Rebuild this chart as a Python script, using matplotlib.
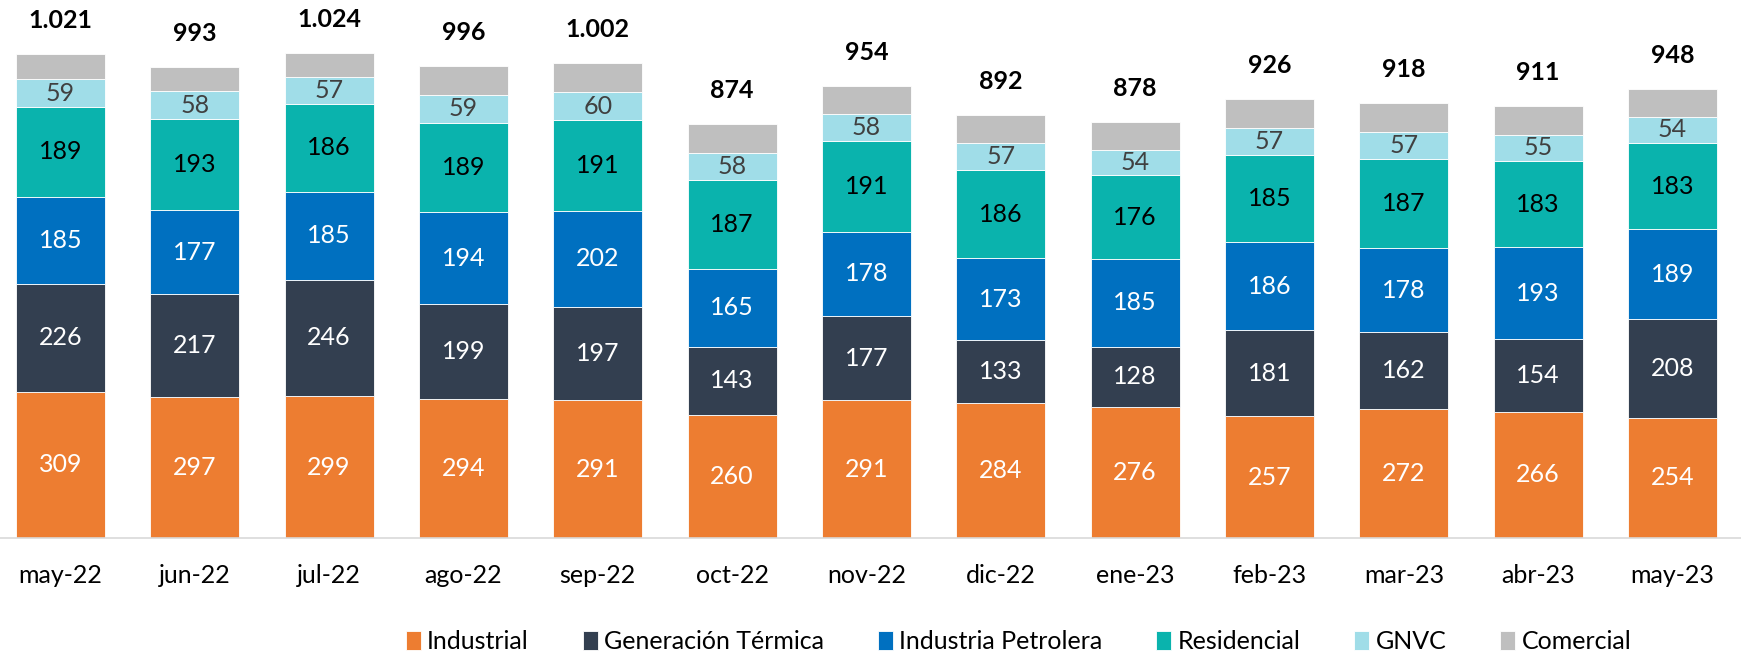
import numpy as np
import matplotlib.pyplot as plt

plt.rcParams['font.family'] = ['Lato', 'DejaVu Sans']

# %% Data
months = ["may-22", "jun-22", "jul-22", "ago-22", "sep-22", "oct-22", "nov-22",
          "dic-22", "ene-23", "feb-23", "mar-23", "abr-23", "may-23"]
industrial = [309, 297, 299, 294, 291, 260, 291, 284, 276, 257, 272, 266, 254]
generacion = [226, 217, 246, 199, 197, 143, 177, 133, 128, 181, 162, 154, 208]
petrolera = [185, 177, 185, 194, 202, 165, 178, 173, 185, 186, 178, 193, 189]
residencial = [189, 193, 186, 189, 191, 187, 191, 186, 176, 185, 187, 183, 183]
gnvc = [59, 58, 57, 59, 60, 58, 58, 57, 54, 57, 57, 55, 54]
comercial = [53, 51, 51, 61, 61, 61, 59, 59, 59, 60, 62, 60, 60]
totals = [1021, 993, 1024, 996, 1002, 874, 954, 892, 878, 926, 918, 911, 948]

series = [
    ("Industrial", industrial, "#ED7D31", "white"),
    ("Generación Térmica", generacion, "#333F50", "white"),
    ("Industria Petrolera", petrolera, "#0070C0", "white"),
    ("Residencial", residencial, "#0AB3AD", "black"),
    ("GNVC", gnvc, "#A0DDE8", "#404040"),
    ("Comercial", comercial, "#BFBFBF", None),
]

# %% Plot
fig = plt.figure(figsize=(17.41, 6.63), dpi=100)
ax = fig.add_axes([0, 1 - 538 / 663, 1, 538 / 663])

x = np.arange(len(months))
bottom = np.zeros(len(months))
for name, vals, color, txt in series:
    vals = np.array(vals)
    ax.bar(x, vals, width=0.663, bottom=bottom, color=color, label=name,
           edgecolor="white", linewidth=0.6)
    if txt is not None:
        for xi, b, v in zip(x, bottom, vals):
            ax.text(xi, b + v / 2, str(v), ha="center", va="center",
                    fontsize=18, color=txt)
    bottom = bottom + vals

for xi, top, t in zip(x, bottom, totals):
    lab = f"{t:,}".replace(",", ".")
    ax.annotate(lab, (xi, top), xytext=(0, 24), textcoords="offset points",
                ha="center", va="center", fontsize=18, fontweight="bold")

ax.set_xlim(-0.45, 12.51)
ax.set_ylim(0, 1135)
ax.set_xticks(x)
ax.set_xticklabels(months, fontsize=18)
ax.tick_params(axis="x", length=0, pad=19)
ax.set_yticks([])
for s in ["top", "right", "left"]:
    ax.spines[s].set_visible(False)
ax.spines["bottom"].set_color("#D9D9D9")
ax.spines["bottom"].set_linewidth(1.2)

fig.legend(loc="center", bbox_to_anchor=(0.585, 0.032), ncol=6, frameon=False,
           fontsize=18, handlelength=0.6, handleheight=0.8, handletextpad=0.25,
           columnspacing=2.16)

plt.savefig("out.png", dpi=100)
